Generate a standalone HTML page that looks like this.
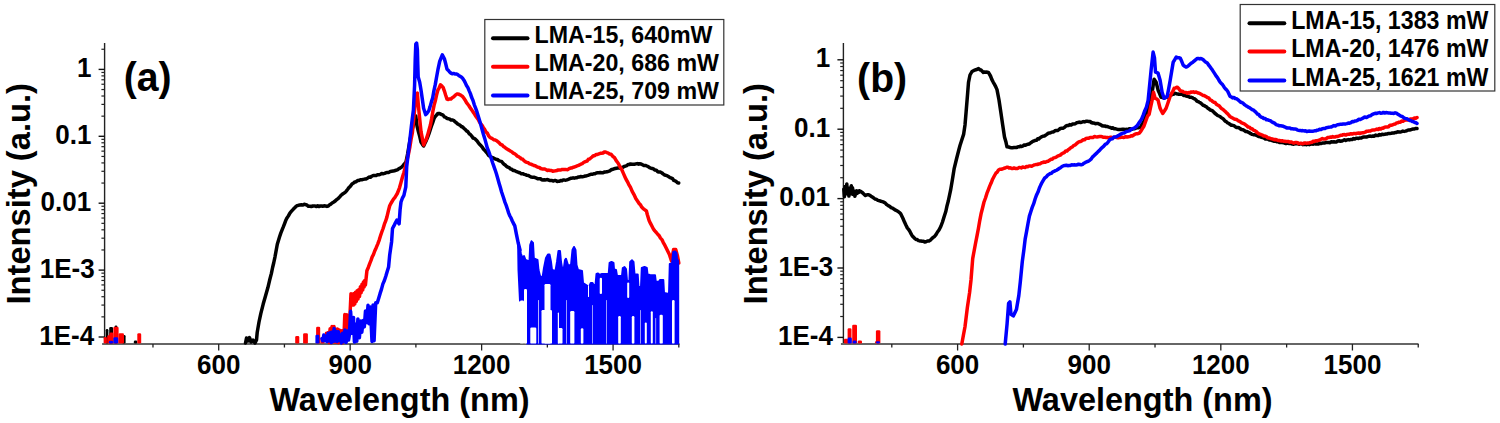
<!DOCTYPE html>
<html><head><meta charset="utf-8"><style>
html,body{margin:0;padding:0;background:#fff;width:1500px;height:423px;overflow:hidden}
svg{display:block}
text{font-family:"Liberation Sans", sans-serif;fill:#000}
</style></head><body>
<svg width="1500" height="423" viewBox="0 0 1500 423">
<rect width="1500" height="423" fill="#fff"/>
<line x1="104.6" y1="43" x2="104.6" y2="345" stroke="#222" stroke-width="1.4"/>
<line x1="102.1" y1="344" x2="679.5" y2="344" stroke="#666" stroke-width="2"/>
<line x1="98.6" y1="337.00" x2="104.6" y2="337.00" stroke="#111" stroke-width="1.4"/>
<line x1="101.39999999999999" y1="316.86" x2="104.6" y2="316.86" stroke="#222" stroke-width="1.2"/>
<line x1="101.39999999999999" y1="305.08" x2="104.6" y2="305.08" stroke="#222" stroke-width="1.2"/>
<line x1="101.39999999999999" y1="296.72" x2="104.6" y2="296.72" stroke="#222" stroke-width="1.2"/>
<line x1="101.39999999999999" y1="290.24" x2="104.6" y2="290.24" stroke="#222" stroke-width="1.2"/>
<line x1="101.39999999999999" y1="284.94" x2="104.6" y2="284.94" stroke="#222" stroke-width="1.2"/>
<line x1="101.39999999999999" y1="280.46" x2="104.6" y2="280.46" stroke="#222" stroke-width="1.2"/>
<line x1="101.39999999999999" y1="276.58" x2="104.6" y2="276.58" stroke="#222" stroke-width="1.2"/>
<line x1="101.39999999999999" y1="273.16" x2="104.6" y2="273.16" stroke="#222" stroke-width="1.2"/>
<line x1="98.6" y1="270.10" x2="104.6" y2="270.10" stroke="#111" stroke-width="1.4"/>
<line x1="101.39999999999999" y1="249.96" x2="104.6" y2="249.96" stroke="#222" stroke-width="1.2"/>
<line x1="101.39999999999999" y1="238.18" x2="104.6" y2="238.18" stroke="#222" stroke-width="1.2"/>
<line x1="101.39999999999999" y1="229.82" x2="104.6" y2="229.82" stroke="#222" stroke-width="1.2"/>
<line x1="101.39999999999999" y1="223.34" x2="104.6" y2="223.34" stroke="#222" stroke-width="1.2"/>
<line x1="101.39999999999999" y1="218.04" x2="104.6" y2="218.04" stroke="#222" stroke-width="1.2"/>
<line x1="101.39999999999999" y1="213.56" x2="104.6" y2="213.56" stroke="#222" stroke-width="1.2"/>
<line x1="101.39999999999999" y1="209.68" x2="104.6" y2="209.68" stroke="#222" stroke-width="1.2"/>
<line x1="101.39999999999999" y1="206.26" x2="104.6" y2="206.26" stroke="#222" stroke-width="1.2"/>
<line x1="98.6" y1="203.20" x2="104.6" y2="203.20" stroke="#111" stroke-width="1.4"/>
<line x1="101.39999999999999" y1="183.06" x2="104.6" y2="183.06" stroke="#222" stroke-width="1.2"/>
<line x1="101.39999999999999" y1="171.28" x2="104.6" y2="171.28" stroke="#222" stroke-width="1.2"/>
<line x1="101.39999999999999" y1="162.92" x2="104.6" y2="162.92" stroke="#222" stroke-width="1.2"/>
<line x1="101.39999999999999" y1="156.44" x2="104.6" y2="156.44" stroke="#222" stroke-width="1.2"/>
<line x1="101.39999999999999" y1="151.14" x2="104.6" y2="151.14" stroke="#222" stroke-width="1.2"/>
<line x1="101.39999999999999" y1="146.66" x2="104.6" y2="146.66" stroke="#222" stroke-width="1.2"/>
<line x1="101.39999999999999" y1="142.78" x2="104.6" y2="142.78" stroke="#222" stroke-width="1.2"/>
<line x1="101.39999999999999" y1="139.36" x2="104.6" y2="139.36" stroke="#222" stroke-width="1.2"/>
<line x1="98.6" y1="136.30" x2="104.6" y2="136.30" stroke="#111" stroke-width="1.4"/>
<line x1="101.39999999999999" y1="116.16" x2="104.6" y2="116.16" stroke="#222" stroke-width="1.2"/>
<line x1="101.39999999999999" y1="104.38" x2="104.6" y2="104.38" stroke="#222" stroke-width="1.2"/>
<line x1="101.39999999999999" y1="96.02" x2="104.6" y2="96.02" stroke="#222" stroke-width="1.2"/>
<line x1="101.39999999999999" y1="89.54" x2="104.6" y2="89.54" stroke="#222" stroke-width="1.2"/>
<line x1="101.39999999999999" y1="84.24" x2="104.6" y2="84.24" stroke="#222" stroke-width="1.2"/>
<line x1="101.39999999999999" y1="79.76" x2="104.6" y2="79.76" stroke="#222" stroke-width="1.2"/>
<line x1="101.39999999999999" y1="75.88" x2="104.6" y2="75.88" stroke="#222" stroke-width="1.2"/>
<line x1="101.39999999999999" y1="72.46" x2="104.6" y2="72.46" stroke="#222" stroke-width="1.2"/>
<line x1="98.6" y1="69.40" x2="104.6" y2="69.40" stroke="#111" stroke-width="1.4"/>
<line x1="101.39999999999999" y1="49.26" x2="104.6" y2="49.26" stroke="#222" stroke-width="1.2"/>
<line x1="152.97" y1="344" x2="152.97" y2="347.5" stroke="#222" stroke-width="1.3"/>
<line x1="218.70" y1="344" x2="218.70" y2="350.5" stroke="#222" stroke-width="1.3"/>
<line x1="284.43" y1="344" x2="284.43" y2="347.5" stroke="#222" stroke-width="1.3"/>
<line x1="350.16" y1="344" x2="350.16" y2="350.5" stroke="#222" stroke-width="1.3"/>
<line x1="415.89" y1="344" x2="415.89" y2="347.5" stroke="#222" stroke-width="1.3"/>
<line x1="481.62" y1="344" x2="481.62" y2="350.5" stroke="#222" stroke-width="1.3"/>
<line x1="547.35" y1="344" x2="547.35" y2="347.5" stroke="#222" stroke-width="1.3"/>
<line x1="613.08" y1="344" x2="613.08" y2="350.5" stroke="#222" stroke-width="1.3"/>
<line x1="678.81" y1="344" x2="678.81" y2="347.5" stroke="#222" stroke-width="1.3"/>
<text x="0" y="0" font-size="26" font-weight="bold" text-anchor="end" transform="translate(91.50,76.90) scale(1.0,1.04)">1</text>
<text x="0" y="0" font-size="26" font-weight="bold" text-anchor="end" transform="translate(91.50,143.80) scale(1.0,1.04)">0.1</text>
<text x="0" y="0" font-size="26" font-weight="bold" text-anchor="end" transform="translate(91.20,210.70) scale(1.0,1.04)">0.01</text>
<text x="0" y="0" font-size="26" font-weight="bold" text-anchor="end" transform="translate(94.60,277.60) scale(1.0,1.04)">1E-3</text>
<text x="0" y="0" font-size="26" font-weight="bold" text-anchor="end" transform="translate(94.20,344.50) scale(1.0,1.04)">1E-4</text>
<text x="0" y="0" font-size="26" font-weight="bold" text-anchor="middle" transform="translate(218.70,374.00) scale(1.0,1.04)">600</text>
<text x="0" y="0" font-size="26" font-weight="bold" text-anchor="middle" transform="translate(350.16,374.00) scale(1.0,1.04)">900</text>
<text x="0" y="0" font-size="26" font-weight="bold" text-anchor="middle" transform="translate(481.62,374.00) scale(1.0,1.04)">1200</text>
<text x="0" y="0" font-size="26" font-weight="bold" text-anchor="middle" transform="translate(613.08,374.00) scale(1.0,1.04)">1500</text>
<line x1="843.4" y1="43" x2="843.4" y2="345" stroke="#222" stroke-width="1.4"/>
<line x1="840.9" y1="344" x2="1418.5" y2="344" stroke="#666" stroke-width="2"/>
<line x1="837.4" y1="337.40" x2="843.4" y2="337.40" stroke="#111" stroke-width="1.4"/>
<line x1="840.1999999999999" y1="316.51" x2="843.4" y2="316.51" stroke="#222" stroke-width="1.2"/>
<line x1="840.1999999999999" y1="304.29" x2="843.4" y2="304.29" stroke="#222" stroke-width="1.2"/>
<line x1="840.1999999999999" y1="295.62" x2="843.4" y2="295.62" stroke="#222" stroke-width="1.2"/>
<line x1="840.1999999999999" y1="288.89" x2="843.4" y2="288.89" stroke="#222" stroke-width="1.2"/>
<line x1="840.1999999999999" y1="283.40" x2="843.4" y2="283.40" stroke="#222" stroke-width="1.2"/>
<line x1="840.1999999999999" y1="278.75" x2="843.4" y2="278.75" stroke="#222" stroke-width="1.2"/>
<line x1="840.1999999999999" y1="274.73" x2="843.4" y2="274.73" stroke="#222" stroke-width="1.2"/>
<line x1="840.1999999999999" y1="271.18" x2="843.4" y2="271.18" stroke="#222" stroke-width="1.2"/>
<line x1="837.4" y1="268.00" x2="843.4" y2="268.00" stroke="#111" stroke-width="1.4"/>
<line x1="840.1999999999999" y1="247.11" x2="843.4" y2="247.11" stroke="#222" stroke-width="1.2"/>
<line x1="840.1999999999999" y1="234.89" x2="843.4" y2="234.89" stroke="#222" stroke-width="1.2"/>
<line x1="840.1999999999999" y1="226.22" x2="843.4" y2="226.22" stroke="#222" stroke-width="1.2"/>
<line x1="840.1999999999999" y1="219.49" x2="843.4" y2="219.49" stroke="#222" stroke-width="1.2"/>
<line x1="840.1999999999999" y1="214.00" x2="843.4" y2="214.00" stroke="#222" stroke-width="1.2"/>
<line x1="840.1999999999999" y1="209.35" x2="843.4" y2="209.35" stroke="#222" stroke-width="1.2"/>
<line x1="840.1999999999999" y1="205.33" x2="843.4" y2="205.33" stroke="#222" stroke-width="1.2"/>
<line x1="840.1999999999999" y1="201.78" x2="843.4" y2="201.78" stroke="#222" stroke-width="1.2"/>
<line x1="837.4" y1="198.60" x2="843.4" y2="198.60" stroke="#111" stroke-width="1.4"/>
<line x1="840.1999999999999" y1="177.71" x2="843.4" y2="177.71" stroke="#222" stroke-width="1.2"/>
<line x1="840.1999999999999" y1="165.49" x2="843.4" y2="165.49" stroke="#222" stroke-width="1.2"/>
<line x1="840.1999999999999" y1="156.82" x2="843.4" y2="156.82" stroke="#222" stroke-width="1.2"/>
<line x1="840.1999999999999" y1="150.09" x2="843.4" y2="150.09" stroke="#222" stroke-width="1.2"/>
<line x1="840.1999999999999" y1="144.60" x2="843.4" y2="144.60" stroke="#222" stroke-width="1.2"/>
<line x1="840.1999999999999" y1="139.95" x2="843.4" y2="139.95" stroke="#222" stroke-width="1.2"/>
<line x1="840.1999999999999" y1="135.93" x2="843.4" y2="135.93" stroke="#222" stroke-width="1.2"/>
<line x1="840.1999999999999" y1="132.38" x2="843.4" y2="132.38" stroke="#222" stroke-width="1.2"/>
<line x1="837.4" y1="129.20" x2="843.4" y2="129.20" stroke="#111" stroke-width="1.4"/>
<line x1="840.1999999999999" y1="108.31" x2="843.4" y2="108.31" stroke="#222" stroke-width="1.2"/>
<line x1="840.1999999999999" y1="96.09" x2="843.4" y2="96.09" stroke="#222" stroke-width="1.2"/>
<line x1="840.1999999999999" y1="87.42" x2="843.4" y2="87.42" stroke="#222" stroke-width="1.2"/>
<line x1="840.1999999999999" y1="80.69" x2="843.4" y2="80.69" stroke="#222" stroke-width="1.2"/>
<line x1="840.1999999999999" y1="75.20" x2="843.4" y2="75.20" stroke="#222" stroke-width="1.2"/>
<line x1="840.1999999999999" y1="70.55" x2="843.4" y2="70.55" stroke="#222" stroke-width="1.2"/>
<line x1="840.1999999999999" y1="66.53" x2="843.4" y2="66.53" stroke="#222" stroke-width="1.2"/>
<line x1="840.1999999999999" y1="62.98" x2="843.4" y2="62.98" stroke="#222" stroke-width="1.2"/>
<line x1="837.4" y1="59.80" x2="843.4" y2="59.80" stroke="#111" stroke-width="1.4"/>
<line x1="891.80" y1="344" x2="891.80" y2="347.5" stroke="#222" stroke-width="1.3"/>
<line x1="957.60" y1="344" x2="957.60" y2="350.5" stroke="#222" stroke-width="1.3"/>
<line x1="1023.40" y1="344" x2="1023.40" y2="347.5" stroke="#222" stroke-width="1.3"/>
<line x1="1089.21" y1="344" x2="1089.21" y2="350.5" stroke="#222" stroke-width="1.3"/>
<line x1="1155.02" y1="344" x2="1155.02" y2="347.5" stroke="#222" stroke-width="1.3"/>
<line x1="1220.82" y1="344" x2="1220.82" y2="350.5" stroke="#222" stroke-width="1.3"/>
<line x1="1286.62" y1="344" x2="1286.62" y2="347.5" stroke="#222" stroke-width="1.3"/>
<line x1="1352.43" y1="344" x2="1352.43" y2="350.5" stroke="#222" stroke-width="1.3"/>
<line x1="1418.24" y1="344" x2="1418.24" y2="347.5" stroke="#222" stroke-width="1.3"/>
<text x="0" y="0" font-size="26" font-weight="bold" text-anchor="end" transform="translate(830.20,67.30) scale(1.0,1.04)">1</text>
<text x="0" y="0" font-size="26" font-weight="bold" text-anchor="end" transform="translate(830.20,136.70) scale(1.0,1.04)">0.1</text>
<text x="0" y="0" font-size="26" font-weight="bold" text-anchor="end" transform="translate(829.90,206.10) scale(1.0,1.04)">0.01</text>
<text x="0" y="0" font-size="26" font-weight="bold" text-anchor="end" transform="translate(833.30,275.50) scale(1.0,1.04)">1E-3</text>
<text x="0" y="0" font-size="26" font-weight="bold" text-anchor="end" transform="translate(832.90,344.90) scale(1.0,1.04)">1E-4</text>
<text x="0" y="0" font-size="26" font-weight="bold" text-anchor="middle" transform="translate(957.60,374.00) scale(1.0,1.04)">600</text>
<text x="0" y="0" font-size="26" font-weight="bold" text-anchor="middle" transform="translate(1089.21,374.00) scale(1.0,1.04)">900</text>
<text x="0" y="0" font-size="26" font-weight="bold" text-anchor="middle" transform="translate(1220.82,374.00) scale(1.0,1.04)">1200</text>
<text x="0" y="0" font-size="26" font-weight="bold" text-anchor="middle" transform="translate(1352.43,374.00) scale(1.0,1.04)">1500</text>
<rect x="105.7" y="329.0" width="2.7" height="14.5" rx="1.3" fill="#000"/><rect x="109.2" y="327.1" width="3.9" height="16.4" rx="1.3" fill="#000"/><rect x="114.6" y="325.5" width="2.8" height="18.0" rx="1.3" fill="#000"/><rect x="122.1" y="334.9" width="3.5" height="8.6" rx="1.3" fill="#000"/><rect x="133.8" y="340.4" width="3.5" height="3.1" rx="1.3" fill="#000"/>
<rect x="103.7" y="336.9" width="3.2" height="6.6" rx="1.3" fill="#f00"/><rect x="107.2" y="335.2" width="3.2" height="8.3" rx="1.3" fill="#f00"/><rect x="109.4" y="332.6" width="4.1" height="10.9" rx="1.3" fill="#f00"/><rect x="113.4" y="326.7" width="5.2" height="16.8" rx="1.3" fill="#f00"/><rect x="118.5" y="333.3" width="5.5" height="10.2" rx="1.3" fill="#f00"/><rect x="137.3" y="333.3" width="3.9" height="10.2" rx="1.3" fill="#f00"/><rect x="295.2" y="336.1" width="4.1" height="7.4" rx="1.3" fill="#f00"/><rect x="303.1" y="333.2" width="4.8" height="10.3" rx="1.3" fill="#f00"/><rect x="316.1" y="326.7" width="4.1" height="16.8" rx="1.3" fill="#f00"/><rect x="320.4" y="337.5" width="4.1" height="6.0" rx="1.3" fill="#f00"/>
<rect x="108.8" y="340.8" width="4.3" height="2.7" rx="1.3" fill="#00f"/><rect x="113.4" y="337.2" width="4.8" height="6.3" rx="1.3" fill="#00f"/><rect x="315.4" y="334.7" width="4.0" height="8.8" rx="1.3" fill="#00f"/>
<rect x="843.9" y="338.7" width="4.2" height="4.8" rx="1.3" fill="#f00"/><rect x="847.6" y="328.2" width="3.9" height="15.3" rx="1.3" fill="#f00"/><rect x="852.2" y="324.7" width="4.8" height="18.8" rx="1.3" fill="#f00"/><rect x="857.7" y="340.4" width="4.3" height="3.1" rx="1.3" fill="#f00"/><rect x="874.9" y="341.2" width="2.2" height="2.3" rx="1.3" fill="#f00"/><rect x="875.9" y="330.2" width="4.5" height="13.3" rx="1.3" fill="#f00"/>
<rect x="847.6" y="337.6" width="4.2" height="5.9" rx="1.3" fill="#00f"/><rect x="852.6" y="340.4" width="4.0" height="3.1" rx="1.3" fill="#00f"/><rect x="875.9" y="341.2" width="4.1" height="2.3" rx="1.3" fill="#00f"/>
<polyline points="245.5,343.0 246.5,338.0 248.0,341.0 249.5,337.5 251.0,342.0 253.0,340.0 255.0,343.0 256.5,340.0 257.2,332.5 259.0,322.0 260.8,313.6 263.2,304.1 265.5,296.0 267.9,287.6 269.6,280.3 271.4,273.4 272.6,267.5 273.8,262.5 275.0,256.8 277.3,244.3 279.5,237.0 280.8,233.1 282.0,230.1 283.2,227.2 284.4,224.1 285.6,220.8 286.8,218.3 288.4,215.9 289.9,213.1 291.5,211.2 293.2,209.3 295.0,207.5 296.2,206.3 297.4,205.6 298.6,205.3 300.0,204.9 301.4,204.7 302.9,205.1 304.3,204.3 305.7,204.6 307.0,205.2 308.4,206.3 309.9,206.3 311.3,206.5 312.8,206.0 314.0,206.1 315.2,206.0 316.5,206.6 317.7,205.7 318.9,206.5 320.2,206.0 321.4,205.9 322.6,206.3 324.0,205.8 325.5,206.0 326.9,206.4 328.3,206.0 329.6,204.7 330.8,204.1 332.1,203.0 333.8,202.0 335.5,200.8 336.7,199.6 338.0,198.6 339.2,197.5 340.6,195.8 342.0,194.5 343.5,193.4 344.9,192.6 346.3,191.1 347.7,189.3 349.1,187.4 350.6,185.9 352.0,184.0 353.4,183.1 354.8,182.0 356.2,181.7 357.6,180.5 359.0,180.4 360.4,179.7 361.9,179.7 363.3,179.4 364.7,179.1 366.1,178.9 367.5,178.2 369.0,177.1 370.4,177.3 371.8,176.2 373.2,175.5 374.6,175.6 376.1,175.6 377.5,174.7 378.9,174.8 380.3,174.4 381.7,173.5 383.2,173.7 384.6,173.4 386.0,172.7 387.4,172.4 388.9,172.4 390.3,171.5 391.7,171.3 393.1,171.1 394.5,170.7 395.9,170.3 397.3,169.9 398.7,168.8 400.1,168.1 401.6,167.1 403.0,165.6 404.4,163.9 405.9,162.3 407.7,153.5 410.0,140.0 411.2,134.2 412.5,128.0 414.5,121.2 415.8,116.0 417.1,126.4 418.4,131.6 419.7,136.4 421.0,142.0 422.3,144.2 423.6,146.0 424.9,143.2 426.2,140.6 427.5,137.5 428.8,134.2 430.1,130.1 431.4,126.3 432.7,122.7 434.0,118.6 435.3,116.4 436.6,115.1 437.9,113.4 439.2,113.5 440.5,113.9 441.8,114.7 443.1,115.2 444.4,116.9 445.7,117.3 447.0,118.6 448.3,118.7 449.6,119.1 450.9,119.9 452.2,119.9 453.5,120.3 454.8,121.6 456.1,122.5 457.4,123.8 458.7,124.6 460.0,125.1 461.3,126.5 462.6,127.0 463.9,128.3 465.2,129.3 466.5,130.9 467.8,131.6 469.1,133.7 470.4,134.5 471.7,136.1 473.0,138.0 474.3,138.4 475.6,139.4 476.9,140.7 478.2,142.6 479.5,144.3 480.8,145.6 482.1,146.9 483.4,149.0 484.7,150.4 486.0,151.8 487.4,153.5 488.7,155.4 490.0,156.4 491.3,157.2 492.5,157.6 493.8,158.2 495.1,158.9 496.4,159.4 497.6,159.4 498.9,160.7 500.2,161.1 501.5,161.4 502.8,163.0 504.0,164.2 505.2,165.0 506.5,166.4 507.8,167.1 509.1,167.6 510.5,169.0 511.8,169.2 513.1,170.5 514.5,170.6 515.9,171.3 517.2,171.8 518.6,172.5 520.0,172.8 521.4,173.8 522.8,173.7 524.2,174.3 525.5,174.7 526.9,175.3 528.3,175.4 529.7,176.3 531.1,177.1 532.4,177.2 533.8,177.2 535.2,177.7 536.5,178.2 537.9,178.8 539.2,178.8 540.5,178.8 541.8,179.7 543.1,180.0 544.3,179.7 545.6,179.9 546.9,179.6 548.2,179.8 549.5,180.4 550.8,180.4 552.0,180.4 553.2,181.1 554.5,180.5 555.8,180.5 557.0,181.5 558.2,181.2 559.5,181.3 560.7,180.6 562.0,180.7 563.2,179.9 564.5,180.1 565.7,180.2 566.9,179.8 568.2,179.3 569.4,178.8 570.6,178.3 571.9,178.2 573.1,177.8 574.3,178.2 575.6,177.8 576.8,177.8 578.1,177.1 579.3,177.1 580.5,176.5 581.8,176.8 583.0,176.7 584.3,176.3 585.5,176.0 586.8,175.7 588.0,175.3 589.3,174.8 590.7,174.3 592.1,174.3 593.6,173.8 595.0,173.7 596.3,173.0 597.6,172.8 599.0,172.8 600.3,172.6 601.6,172.8 603.0,172.8 604.3,172.1 605.6,171.9 607.0,171.8 608.4,171.3 609.9,170.8 611.3,169.7 612.7,169.3 614.0,168.8 615.2,168.5 616.5,168.2 617.8,168.0 619.1,168.1 620.3,168.2 621.6,167.5 622.9,167.3 624.1,166.5 625.4,166.1 626.7,165.7 628.0,164.5 629.2,164.6 630.5,163.9 631.8,164.3 633.1,164.2 634.5,164.2 635.8,163.9 637.1,163.6 638.5,164.2 639.8,163.7 641.1,163.9 642.5,164.7 643.9,165.5 645.4,165.4 646.8,166.0 648.2,166.6 649.6,167.7 650.9,168.2 652.3,168.4 653.6,169.0 655.0,170.1 656.4,170.3 657.8,171.7 659.2,172.1 660.6,172.1 662.0,173.0 663.4,174.1 664.7,175.0 666.1,175.4 667.4,175.9 668.8,176.8 670.0,177.6 671.3,178.0 672.5,178.6 673.8,180.4 675.0,180.8 676.2,181.5 677.5,182.7 678.7,183.0" fill="none" stroke="#000" stroke-width="3.5" stroke-linejoin="round" stroke-linecap="round"/>
<polyline points="326.5,333.3 327.5,341.3 328.3,332.6 329.2,342.5 330.1,328.8 331.0,342.7 332.0,326.5 332.9,341.8 334.0,326.6 335.0,342.0 335.9,329.6 336.6,342.1 337.4,329.0 338.4,342.7 339.3,330.1 340.3,342.3 341.2,330.8 342.2,342.8 343.1,330.5 343.9,338.9 344.8,314.6 345.8,335.5 346.7,314.7 347.6,335.2 348.6,319.7 349.5,325.5 351.0,293.7 351.9,301.2 352.5,294.2 353.4,305.1 354.1,293.5 354.8,304.0 355.5,292.2 356.3,301.3 357.1,290.8 358.0,299.0 358.6,289.7 359.5,296.6 360.4,286.7 361.1,292.7 362.0,284.2 362.7,290.1 363.4,282.1 364.1,287.1 364.7,280.5 365.4,285.1 366.9,270.7 368.4,267.2 369.8,263.4 371.0,260.4 372.2,256.9 373.4,254.7 374.6,251.2 376.2,247.7 377.7,244.1 379.3,239.8 380.6,235.6 381.8,232.0 383.1,228.5 384.4,224.2 385.6,221.2 386.9,217.1 388.3,211.2 389.7,205.8 391.0,203.2 392.2,201.3 393.5,199.2 394.8,197.7 396.0,195.7 397.3,193.5 399.5,187.8 401.0,182.4 402.4,177.2 403.9,172.4 405.5,166.5 407.0,159.9 408.6,153.5 409.9,146.8 411.1,139.2 412.4,132.7 413.8,117.9 415.2,104.0 416.3,94.0 417.3,93.0 418.4,105.6 419.7,118.8 421.0,131.6 422.3,138.2 423.6,145.0 424.9,141.8 426.2,139.4 427.6,135.1 429.0,130.0 430.4,125.1 431.6,118.9 432.8,111.7 434.0,105.6 435.3,100.8 436.6,94.8 437.9,90.0 439.2,87.8 440.5,84.8 441.8,86.1 443.1,87.4 444.4,91.1 445.7,95.3 447.0,99.1 448.3,99.5 449.6,98.9 450.9,99.1 452.2,97.7 453.5,97.0 454.8,95.7 456.1,94.5 457.4,93.9 458.7,94.2 460.0,94.8 461.3,95.6 462.6,96.5 463.9,98.3 465.2,100.2 466.5,102.6 467.8,104.3 469.1,106.0 470.4,108.2 471.7,109.8 473.0,111.9 474.3,113.6 475.6,116.0 476.9,117.7 478.2,119.4 479.5,122.1 480.8,123.9 482.1,125.4 483.4,127.7 484.7,129.6 486.0,132.1 487.4,133.2 488.7,135.9 490.0,137.5 491.3,138.1 492.6,138.8 494.0,139.8 495.3,140.0 496.6,140.7 498.0,141.8 499.3,143.1 500.7,144.5 502.1,144.9 503.4,146.5 504.8,147.3 506.2,148.5 507.6,149.4 509.0,150.1 510.3,151.0 511.7,151.7 513.1,153.1 514.5,153.7 515.9,154.6 517.2,156.2 518.6,156.7 520.0,157.6 521.4,158.9 522.8,159.3 524.2,160.9 525.5,161.8 526.9,162.4 528.3,162.8 529.7,163.9 531.1,164.2 532.4,164.8 533.8,165.5 535.2,165.8 536.5,166.6 537.9,167.2 539.3,167.4 540.7,168.5 542.0,168.9 543.4,168.9 544.8,169.0 546.2,169.7 547.5,170.5 548.8,170.1 550.2,170.5 551.5,170.5 552.8,171.3 554.1,170.9 555.5,170.8 556.8,170.5 558.2,170.0 559.5,170.0 560.9,170.0 562.2,169.4 563.6,169.6 565.0,169.4 566.3,169.6 567.7,169.7 569.1,168.7 570.5,168.1 571.9,167.9 573.2,167.2 574.6,167.0 576.0,166.4 577.2,165.8 578.5,165.4 579.8,164.7 581.0,164.1 582.2,163.7 583.5,162.5 584.8,161.9 586.0,161.4 587.2,161.0 588.4,159.3 589.6,159.0 590.8,158.0 592.0,157.0 593.3,155.7 594.7,155.7 596.0,154.5 597.4,154.5 598.9,153.8 600.3,153.3 601.6,153.2 603.0,153.0 604.3,152.0 605.6,152.0 607.0,152.6 608.3,153.1 609.6,154.0 611.0,154.2 612.8,156.3 614.5,157.7 616.2,160.7 618.0,163.0 619.2,165.2 620.4,167.6 621.6,169.3 623.4,173.4 625.1,177.2 626.3,179.8 627.5,181.7 628.7,184.3 630.5,187.4 632.2,191.4 634.0,194.6 635.8,198.5 637.5,201.0 639.3,203.8 640.5,204.9 641.7,207.1 642.9,208.3 644.6,209.7 646.4,211.0 647.3,214.5 649.1,220.4 650.5,223.4 652.0,226.3 653.4,229.0 654.8,230.9 656.3,232.5 657.7,234.3 659.1,235.6 660.5,238.1 661.9,239.6 663.3,242.6 664.8,245.2 666.2,248.0 667.8,251.3 669.4,254.5 671.5,260.9 673.6,249.5 675.7,249.5 677.5,256.0 678.8,263.0" fill="none" stroke="#f00" stroke-width="3.5" stroke-linejoin="round" stroke-linecap="round"/>
<polygon points="518.1,242.5 520.0,250.0 521.0,254.0 522.5,258.0 524.0,256.0 525.5,260.0 528.0,261.0 529.5,261.0 530.2,245.0 531.5,241.3 533.0,243.0 533.8,258.0 535.0,259.0 537.5,260.0 538.5,270.0 540.0,276.0 542.5,278.0 544.0,268.0 546.0,258.0 548.0,254.5 549.5,254.5 551.0,262.0 552.0,270.0 555.5,271.0 557.0,262.0 558.5,251.0 560.0,251.0 561.0,262.0 562.0,267.8 564.0,267.5 565.0,260.0 566.0,258.7 567.0,262.0 568.0,265.3 571.0,265.3 572.5,250.0 574.0,247.0 575.5,250.0 576.5,265.0 578.0,270.0 582.0,271.0 583.0,283.0 587.7,286.0 589.5,286.0 590.8,283.0 592.5,283.0 593.5,285.0 595.5,285.0 596.5,274.0 598.0,273.5 599.5,275.0 602.0,274.0 608.7,274.0 609.6,263.0 611.5,262.0 613.5,263.0 614.0,269.4 616.0,270.0 617.0,276.0 622.0,276.0 622.8,268.0 624.5,267.0 626.0,269.0 627.0,281.0 629.4,281.0 630.2,262.0 632.0,260.3 633.5,262.0 634.5,274.4 637.7,274.4 638.5,287.0 641.0,287.0 641.8,268.0 644.5,267.0 646.8,268.0 647.5,274.4 650.0,275.0 655.0,275.2 655.8,281.8 659.0,281.8 660.0,280.0 663.3,280.0 664.0,293.0 669.0,294.0 669.8,264.0 672.0,263.5 673.2,252.0 675.0,251.5 676.5,253.0 677.0,259.0 678.2,261.0 678.2,343.5 527.0,343.5 527.0,289.0 524.0,288.5 523.5,300.6 520.0,300.6 518.5,270.0" fill="#00f" stroke="#00f" stroke-width="2" stroke-linejoin="round"/><rect x="530.3" y="327.5" width="6.0" height="16.1" rx="1.2" fill="#fff"/><rect x="541.5" y="310.0" width="10.5" height="33.6" rx="1.2" fill="#fff"/><rect x="544.5" y="284.0" width="6.0" height="59.6" rx="1.2" fill="#fff"/><rect x="557.8" y="312.6" width="1.2" height="31.0" rx="0.6" fill="#fff"/><rect x="558.0" y="328.0" width="4.5" height="15.6" rx="1.2" fill="#fff"/><rect x="570.2" y="311.0" width="4.2" height="32.6" rx="1.2" fill="#fff"/><rect x="580.8" y="328.2" width="2.6" height="15.4" rx="1.2" fill="#fff"/><rect x="588.0" y="285.0" width="1.0" height="12.0" rx="0.5" fill="#fff"/><rect x="618.2" y="316.0" width="2.6" height="27.6" rx="1.2" fill="#fff"/><rect x="631.8" y="316.0" width="2.6" height="27.6" rx="1.2" fill="#fff"/><rect x="644.8" y="322.5" width="2.0" height="21.1" rx="1.0" fill="#fff"/><rect x="650.8" y="311.2" width="2.0" height="32.4" rx="1.0" fill="#fff"/><rect x="659.6" y="314.8" width="3.2" height="28.8" rx="1.2" fill="#fff"/><rect x="672.0" y="300.0" width="2.6" height="43.6" rx="1.2" fill="#fff"/><rect x="599.7" y="277.7" width="2.3" height="16.3" rx="1.1" fill="#fff"/><rect x="627.2" y="282.6" width="2.0" height="15.4" rx="1.0" fill="#fff"/><rect x="524.0" y="289.0" width="3.0" height="54.6" rx="1.2" fill="#fff"/><rect x="520.0" y="300.6" width="4.0" height="43.0" rx="1.2" fill="#fff"/><rect x="538.2" y="300.0" width="0.7" height="43.6" rx="0.3" fill="#fff"/><rect x="566.2" y="300.0" width="0.6" height="43.6" rx="0.3" fill="#fff"/><rect x="592.0" y="305.0" width="0.6" height="38.6" rx="0.3" fill="#fff"/><rect x="606.0" y="300.0" width="0.6" height="43.6" rx="0.3" fill="#fff"/><rect x="640.0" y="310.0" width="0.6" height="33.6" rx="0.3" fill="#fff"/><rect x="655.5" y="318.0" width="0.6" height="25.6" rx="0.3" fill="#fff"/>
<polyline points="322.0,338.6 322.8,340.8 323.8,335.0 324.8,340.8 325.7,336.2 327.1,341.5 328.1,333.3 329.3,340.7 330.5,332.4 331.3,342.6 332.3,332.1 333.3,341.3 334.1,328.6 335.0,341.0 336.2,331.4 337.2,341.5 338.3,331.8 339.2,340.3 340.1,334.9 341.4,342.9 342.5,333.3 343.9,341.7 344.9,329.9 346.2,342.4 347.4,331.0 348.5,340.1 349.4,334.9 350.6,311.3 352.0,333.3 353.5,317.5 354.4,342.0 355.7,324.3 356.8,341.2 357.9,318.9 359.4,337.7 360.8,320.9 361.8,332.3 363.2,320.5 364.3,326.9 365.5,311.0 366.8,322.6 368.0,305.3 369.0,323.7 370.4,307.0 372.0,341.4 373.1,304.9 374.1,340.8 375.7,302.7 377.3,302.8 378.7,298.2 380.1,293.4 381.5,289.1 382.9,283.9 384.4,280.5 385.8,276.3 387.2,271.6 388.6,266.9 389.7,255.0 391.6,241.7 392.5,228.5 393.9,225.9 395.4,222.8 396.9,220.0 399.1,223.8 400.1,209.6 401.0,202.0 402.4,198.2 403.9,195.4 405.8,186.9 406.7,166.7 408.1,154.6 409.6,142.1 411.5,125.1 413.4,110.0 414.6,85.0 415.2,60.0 415.8,44.0 416.6,43.0 417.4,50.0 417.8,65.0 418.2,77.0 419.7,82.2 421.0,90.0 422.3,99.1 423.6,108.2 425.7,114.7 427.2,113.0 428.8,110.8 430.1,106.6 431.4,101.9 432.7,97.8 434.0,90.4 435.3,84.4 436.6,77.0 438.1,68.8 439.7,61.4 441.0,58.1 442.3,54.9 444.4,58.8 445.7,63.8 447.0,69.2 448.3,70.3 449.6,72.0 450.9,73.1 452.2,73.8 453.5,73.4 454.8,74.0 456.1,73.9 457.4,74.4 458.7,75.4 460.0,76.2 461.3,77.0 462.6,78.3 463.9,80.2 465.2,82.6 466.5,85.5 467.8,87.4 469.1,90.6 470.4,93.6 471.7,97.6 473.0,100.4 474.3,104.8 475.6,108.1 476.9,111.7 478.2,116.0 479.5,120.2 480.8,124.7 482.1,129.5 483.4,134.2 484.7,138.4 486.0,143.1 487.3,148.0 488.6,151.2 489.9,154.9 491.2,158.2 492.5,162.5 493.8,166.2 495.1,169.8 496.4,173.8 497.7,178.3 499.0,182.9 500.3,187.3 501.6,192.0 503.3,197.0 505.0,202.4 506.2,205.4 507.4,209.0 508.7,213.1 509.9,216.0 511.1,218.1 512.3,221.0 513.6,223.6 514.8,225.9 516.5,234.6 518.1,242.5 520.0,250.0" fill="none" stroke="#00f" stroke-width="3.5" stroke-linejoin="round" stroke-linecap="round"/>
<polyline points="843.8,189.2 844.4,196.7 845.1,186.5 845.9,193.7 846.8,183.9 847.3,194.0 848.2,187.9 848.9,196.0 849.6,188.0 850.4,193.2 851.3,185.7 851.8,193.9 852.5,187.8 853.4,194.5 854.2,191.3 854.9,196.2 855.4,193.2 856.0,194.1 856.7,190.9 857.3,193.3 858.0,191.2 858.6,192.5 859.3,190.7 859.3,190.7 861.0,191.6 862.8,193.0 864.1,194.4 865.5,195.5 867.1,194.7 868.7,194.8 870.3,195.6 871.9,196.8 873.5,197.8 875.0,199.0 876.5,199.4 877.9,200.4 879.4,200.7 880.9,201.3 882.3,201.6 883.8,202.2 885.3,203.1 886.8,204.7 888.2,205.7 889.7,206.4 891.2,207.8 892.7,208.1 894.2,209.3 895.6,210.2 897.1,210.8 898.3,211.7 899.5,212.6 900.7,213.8 903.0,218.5 904.5,222.1 906.0,225.3 907.3,227.9 908.5,229.3 909.8,231.3 911.0,233.7 912.3,236.0 913.5,237.1 914.8,238.5 916.0,239.5 917.2,239.6 918.5,240.6 919.7,240.9 920.9,241.1 922.2,241.3 923.5,241.2 924.7,242.1 926.0,241.8 927.5,241.0 929.0,240.9 930.5,240.0 931.8,238.6 933.2,237.4 934.5,236.5 936.0,234.6 937.5,232.0 939.0,230.0 940.8,226.5 942.5,222.0 944.1,216.7 945.8,211.5 947.0,205.9 948.3,201.0 950.6,190.2 952.5,179.0 954.1,168.9 956.5,159.0 958.8,150.0 960.0,145.5 961.3,141.5 963.6,134.4 965.0,125.0 966.1,112.0 967.5,95.0 968.5,82.3 970.0,75.0 972.0,71.5 973.5,70.7 975.0,70.0 976.8,69.5 978.5,68.6 979.8,69.7 981.0,70.0 983.4,72.4 984.6,72.0 985.9,72.3 987.1,72.1 988.4,72.4 990.5,76.0 991.9,79.6 993.3,82.3 994.5,84.4 995.8,86.8 997.0,89.7 999.0,100.0 1000.8,112.0 1002.7,125.0 1004.5,136.9 1005.8,141.4 1007.0,146.8 1008.6,147.0 1010.2,147.5 1011.5,147.8 1012.8,147.7 1014.1,147.4 1015.5,147.6 1016.8,147.4 1018.1,146.7 1019.4,146.8 1020.6,146.1 1021.8,146.5 1023.0,146.0 1024.2,144.9 1025.5,145.2 1026.7,144.6 1027.9,144.2 1029.1,144.0 1030.3,143.1 1031.5,142.3 1032.7,141.4 1033.9,141.0 1035.2,140.4 1036.4,140.3 1037.6,138.8 1038.8,139.0 1040.0,137.8 1041.4,136.8 1042.7,136.3 1044.1,136.1 1045.4,135.4 1046.8,134.4 1048.1,133.3 1049.5,133.1 1050.8,132.6 1052.2,132.0 1053.5,132.0 1054.9,130.8 1056.2,130.5 1057.6,130.5 1058.9,129.6 1060.3,128.5 1061.6,128.3 1063.0,128.2 1064.3,127.5 1065.7,126.2 1067.0,125.6 1068.4,125.5 1069.7,124.6 1071.1,125.1 1072.4,124.0 1073.8,124.0 1075.1,123.8 1076.5,122.8 1077.8,122.5 1079.2,122.1 1080.5,122.6 1081.9,122.1 1083.2,121.6 1084.6,121.9 1085.9,121.3 1087.3,121.3 1088.6,121.4 1090.0,121.5 1091.3,122.5 1092.7,123.0 1094.0,123.1 1095.4,123.7 1096.7,123.6 1098.1,123.5 1099.4,124.2 1100.8,124.8 1102.1,125.7 1103.5,126.1 1104.8,126.0 1106.2,126.5 1107.6,126.6 1108.9,127.1 1110.3,127.5 1111.6,128.2 1113.0,127.8 1114.3,128.8 1115.7,128.8 1117.0,129.2 1118.4,129.4 1119.7,129.4 1121.1,129.4 1122.4,129.2 1123.8,129.3 1125.1,129.6 1126.5,129.3 1127.8,129.7 1129.2,128.8 1130.5,128.8 1131.9,129.3 1133.2,128.7 1134.6,128.8 1136.1,128.0 1137.5,127.5 1139.0,127.7 1140.5,127.2 1142.2,124.1 1144.0,121.3 1145.8,115.9 1147.6,109.5 1149.3,104.1 1151.1,98.0 1152.6,89.1 1154.1,79.2 1156.1,82.2 1158.1,90.2 1159.6,93.5 1161.1,97.3 1162.6,97.4 1164.1,98.3 1165.4,97.4 1166.7,97.3 1167.9,97.0 1169.2,96.3 1170.4,95.6 1171.6,94.8 1172.8,94.4 1174.0,94.0 1175.2,93.3 1176.4,93.7 1177.6,93.9 1178.8,94.2 1180.0,94.3 1181.2,94.3 1182.4,94.3 1183.6,95.4 1184.9,95.3 1186.1,96.0 1187.3,96.3 1188.5,96.6 1189.7,97.3 1190.9,97.2 1192.1,97.6 1193.3,98.3 1194.5,98.8 1195.7,99.6 1196.9,101.1 1198.1,101.6 1199.3,102.3 1200.5,102.9 1201.7,103.8 1202.9,105.2 1204.1,105.5 1205.3,106.3 1206.5,106.8 1207.7,108.2 1209.0,108.9 1210.2,110.0 1211.4,110.3 1212.6,110.9 1213.9,112.2 1215.1,113.5 1216.3,114.4 1217.6,115.5 1218.8,116.0 1220.0,116.5 1221.3,117.6 1222.5,118.4 1223.8,119.4 1225.0,121.1 1226.3,121.6 1227.5,122.9 1228.8,123.3 1230.0,124.3 1231.3,125.2 1232.6,125.3 1233.9,125.7 1235.2,126.7 1236.5,127.4 1237.8,127.5 1239.1,127.8 1240.4,128.9 1241.7,129.6 1243.0,129.8 1244.3,130.6 1245.6,131.4 1246.9,131.6 1248.2,132.2 1249.5,132.8 1250.8,133.7 1252.1,134.3 1253.4,134.7 1254.7,134.8 1256.0,135.1 1257.3,135.8 1258.6,136.6 1259.9,136.6 1261.2,137.3 1262.5,137.5 1263.8,137.9 1265.1,138.9 1266.4,139.1 1267.7,139.0 1269.0,139.9 1270.3,139.8 1271.6,140.4 1272.9,140.9 1274.2,141.3 1275.5,141.1 1276.8,141.8 1278.1,141.7 1279.4,142.4 1280.7,142.4 1282.0,142.4 1283.3,142.7 1284.6,143.1 1285.9,143.6 1287.2,143.1 1288.5,143.4 1289.8,143.3 1291.1,143.5 1292.4,144.0 1293.7,144.2 1295.0,143.8 1296.3,143.7 1297.6,143.6 1298.9,144.3 1300.2,143.8 1301.5,143.7 1302.8,144.7 1304.1,144.2 1305.4,144.4 1306.7,144.7 1308.0,144.2 1309.3,144.7 1310.6,144.2 1311.9,143.9 1313.2,144.2 1314.5,143.6 1315.8,144.0 1317.1,143.9 1318.4,144.1 1319.7,143.1 1321.0,143.5 1322.3,143.1 1323.6,143.1 1324.9,142.9 1326.2,142.4 1327.5,142.4 1328.8,142.5 1330.1,142.7 1331.4,141.7 1332.7,142.0 1334.0,141.8 1335.3,141.9 1336.6,141.9 1337.9,140.9 1339.2,140.7 1340.5,141.3 1341.8,141.1 1343.1,140.5 1344.4,139.8 1345.7,140.5 1347.0,139.9 1348.3,139.6 1349.6,139.9 1350.9,139.4 1352.2,139.4 1353.5,138.6 1354.8,139.0 1356.1,138.2 1357.4,138.2 1358.7,138.4 1360.0,137.9 1361.3,138.0 1362.6,137.2 1363.9,137.0 1365.2,137.0 1366.5,137.0 1367.8,136.6 1369.1,136.2 1370.4,136.1 1371.7,136.4 1373.0,136.0 1374.3,136.2 1375.6,135.1 1376.9,135.5 1378.2,135.5 1379.5,134.5 1380.8,135.1 1382.1,134.2 1383.4,134.5 1384.7,134.3 1386.0,134.0 1387.3,133.9 1388.6,133.4 1389.9,133.4 1391.2,133.3 1392.5,133.0 1393.8,133.0 1395.1,132.6 1396.4,132.4 1397.7,131.8 1399.0,132.1 1400.3,132.0 1401.6,131.6 1402.9,131.1 1404.2,131.4 1405.6,131.1 1406.9,130.6 1408.2,130.0 1409.5,130.1 1410.8,129.8 1412.0,129.2 1413.2,129.0 1414.5,129.0 1415.8,128.4 1417.0,128.6" fill="none" stroke="#000" stroke-width="3.5" stroke-linejoin="round" stroke-linecap="round"/>
<polyline points="961.8,344.0 963.4,335.3 965.0,326.8 967.3,308.0 969.6,292.5 971.0,280.0 972.7,258.6 974.1,251.0 975.6,243.0 977.0,235.9 978.4,228.5 979.8,220.3 981.2,213.2 982.6,207.8 984.0,202.0 985.5,198.0 986.9,193.4 988.3,189.9 989.8,185.9 991.2,182.8 992.6,179.2 994.3,176.0 996.0,173.0 997.2,172.2 998.4,170.2 999.6,169.3 1001.0,169.3 1002.4,169.0 1003.9,168.3 1005.3,168.0 1006.7,167.3 1007.9,167.2 1009.1,168.1 1010.3,167.8 1011.6,168.4 1012.8,168.5 1014.0,167.9 1015.2,168.4 1016.4,168.5 1017.7,168.5 1018.9,167.5 1020.1,167.6 1021.3,167.9 1022.6,167.1 1023.8,167.3 1025.1,167.4 1026.4,166.6 1027.7,166.8 1029.1,165.9 1030.4,166.0 1031.7,166.2 1033.0,165.5 1034.4,164.9 1035.8,164.6 1037.2,164.5 1038.6,164.0 1040.0,163.8 1041.4,162.8 1042.7,162.5 1044.1,162.0 1045.4,162.2 1046.8,161.5 1048.1,161.2 1049.5,160.3 1050.8,159.3 1052.2,159.2 1053.5,157.9 1054.9,157.6 1056.2,157.1 1057.6,156.1 1058.9,155.6 1060.3,155.1 1061.6,153.9 1063.0,153.1 1064.3,152.6 1065.7,150.9 1067.0,151.0 1068.4,149.6 1069.7,148.7 1071.1,147.5 1072.4,146.9 1073.8,145.4 1075.1,145.1 1076.5,143.7 1077.8,142.6 1079.2,141.8 1080.5,141.6 1081.9,140.7 1083.2,139.8 1084.6,139.8 1085.9,138.5 1087.3,138.3 1088.7,138.3 1090.1,137.4 1091.6,137.4 1093.0,137.4 1094.4,136.6 1095.7,136.8 1097.0,136.9 1098.3,136.7 1099.6,136.5 1101.0,136.6 1102.3,136.8 1103.6,137.3 1104.9,137.2 1106.2,137.4 1107.5,137.5 1108.8,137.9 1110.1,137.2 1111.4,137.3 1112.8,137.8 1114.1,137.2 1115.4,137.2 1116.7,137.6 1118.0,137.8 1119.3,137.3 1120.6,137.4 1121.9,137.1 1123.2,137.4 1124.6,137.2 1125.9,136.7 1127.2,137.0 1128.5,136.7 1129.8,136.6 1131.2,135.7 1132.5,136.0 1133.9,134.8 1135.2,134.2 1136.6,133.7 1137.9,133.7 1139.3,133.1 1140.9,131.1 1142.4,128.6 1144.0,126.0 1145.8,120.9 1147.6,116.0 1149.1,114.4 1150.6,107.1 1152.1,100.3 1153.5,92.3 1155.1,98.3 1156.6,98.8 1158.1,100.3 1160.1,108.3 1161.4,111.0 1162.7,113.4 1164.4,110.9 1166.1,108.3 1167.5,104.2 1168.8,100.4 1170.2,96.3 1171.5,93.5 1172.9,91.3 1174.2,88.2 1175.7,87.9 1177.2,87.2 1178.5,88.3 1179.9,90.3 1181.2,91.2 1182.4,91.2 1183.6,92.1 1184.9,92.4 1186.1,92.6 1187.3,93.3 1188.5,92.6 1189.7,93.0 1190.9,91.9 1192.1,92.2 1193.3,91.8 1194.5,92.5 1195.7,92.0 1196.9,92.4 1198.1,93.1 1199.3,93.3 1200.5,93.9 1201.7,94.6 1202.9,95.4 1204.1,95.4 1205.3,96.3 1206.5,96.9 1207.7,97.7 1209.0,98.2 1210.2,99.9 1211.4,100.3 1212.6,101.5 1213.9,102.3 1215.1,102.5 1216.3,104.2 1217.6,105.0 1218.8,105.6 1220.0,106.8 1221.3,108.3 1222.5,109.2 1223.8,110.2 1225.0,111.3 1226.3,112.6 1227.5,113.6 1228.8,115.1 1230.0,116.5 1231.3,117.4 1232.6,118.0 1233.9,118.8 1235.2,119.3 1236.5,119.5 1237.8,120.4 1239.1,121.2 1240.4,121.8 1241.7,122.9 1243.0,123.4 1244.3,123.9 1245.6,124.9 1246.9,125.9 1248.2,127.1 1249.5,127.2 1250.8,128.7 1252.1,128.7 1253.4,130.1 1254.7,130.6 1256.0,131.4 1257.3,132.6 1258.6,133.6 1259.9,134.2 1261.2,134.7 1262.5,135.1 1263.8,136.1 1265.1,136.1 1266.4,136.6 1267.7,137.8 1269.0,137.9 1270.3,138.4 1271.6,138.8 1272.9,139.1 1274.2,139.7 1275.5,139.5 1276.8,139.9 1278.1,140.5 1279.4,140.5 1280.7,140.9 1282.0,140.7 1283.3,141.2 1284.6,141.2 1285.9,141.5 1287.2,141.4 1288.5,141.6 1289.8,142.2 1291.1,141.9 1292.4,142.5 1293.7,143.1 1295.0,142.5 1296.3,142.5 1297.6,142.8 1298.9,143.7 1300.2,143.3 1301.5,143.3 1302.8,143.8 1304.1,143.1 1305.4,142.9 1306.7,143.3 1308.0,143.1 1309.3,142.9 1310.6,142.5 1311.9,142.3 1313.2,141.2 1314.5,141.4 1315.8,140.7 1317.1,140.8 1318.4,140.3 1319.7,140.0 1321.0,139.2 1322.3,138.5 1323.6,139.1 1324.9,138.9 1326.2,138.7 1327.5,137.6 1328.8,137.5 1330.1,137.1 1331.4,137.3 1332.7,136.6 1334.0,137.1 1335.3,136.9 1336.6,136.4 1337.9,136.4 1339.2,135.9 1340.5,135.3 1341.8,135.3 1343.1,134.7 1344.4,134.6 1345.7,135.1 1347.0,134.4 1348.3,134.3 1349.6,134.2 1350.9,133.7 1352.2,134.0 1353.5,133.6 1354.8,133.5 1356.1,133.7 1357.4,133.2 1358.7,133.0 1360.0,133.5 1361.3,132.9 1362.6,132.7 1363.9,132.7 1365.2,132.2 1366.5,131.3 1367.8,131.3 1369.1,131.0 1370.4,131.0 1371.7,130.3 1373.0,130.1 1374.3,130.1 1375.6,129.7 1376.9,129.1 1378.2,129.5 1379.5,128.5 1380.8,129.0 1382.1,128.1 1383.4,128.2 1384.7,127.2 1386.0,126.9 1387.3,127.0 1388.6,126.7 1389.9,125.3 1391.2,125.3 1392.5,124.8 1393.8,124.3 1395.1,124.1 1396.4,123.0 1397.7,122.8 1399.0,122.2 1400.4,122.2 1401.7,121.1 1403.0,121.3 1404.3,120.4 1405.6,120.0 1406.9,119.7 1408.2,119.9 1409.4,119.5 1410.7,118.9 1412.0,119.1 1413.2,118.8 1414.5,117.9 1415.8,118.2 1417.0,117.5" fill="none" stroke="#f00" stroke-width="3.5" stroke-linejoin="round" stroke-linecap="round"/>
<polyline points="1005.2,344.0 1007.1,323.7 1008.6,303.4 1009.9,301.8 1011.0,314.3 1013.3,315.9 1014.8,312.9 1016.4,309.6 1018.8,295.6 1020.3,282.0 1022.3,261.5 1023.8,250.4 1025.2,238.8 1026.6,231.4 1028.0,223.5 1029.4,216.1 1030.8,211.7 1032.2,207.4 1033.7,203.7 1035.1,199.0 1036.5,195.1 1037.9,192.3 1039.4,188.0 1040.8,184.9 1042.1,182.3 1043.4,180.1 1044.7,178.0 1046.3,176.9 1047.9,174.9 1049.1,174.2 1050.3,173.4 1051.6,173.2 1052.8,171.8 1054.0,171.4 1055.2,170.7 1056.5,170.3 1057.7,169.6 1058.9,168.6 1060.5,167.8 1062.0,166.5 1063.6,165.7 1065.0,165.4 1066.3,165.2 1067.7,165.7 1069.0,165.5 1070.4,165.4 1071.7,164.8 1073.1,165.0 1074.5,164.8 1075.8,165.1 1077.2,164.8 1078.5,164.2 1079.9,164.5 1081.2,164.8 1082.6,164.3 1084.0,163.2 1085.4,162.4 1086.8,161.7 1088.2,161.3 1089.6,160.3 1091.0,159.2 1092.4,157.1 1093.9,155.7 1095.3,154.4 1096.7,153.2 1098.1,151.6 1099.5,150.4 1101.0,148.6 1102.4,147.3 1103.8,146.1 1105.2,144.4 1106.6,143.7 1108.1,142.1 1109.5,140.0 1110.9,139.0 1112.3,138.8 1113.6,137.3 1115.0,136.9 1116.3,136.8 1117.7,135.9 1119.0,135.2 1120.4,134.3 1121.7,133.7 1123.1,133.0 1124.4,132.9 1125.8,131.8 1127.1,131.4 1128.5,131.1 1129.8,130.7 1131.2,129.3 1132.6,128.7 1134.1,128.2 1135.5,127.1 1136.9,126.0 1138.5,123.6 1140.1,121.4 1141.7,118.9 1143.3,114.9 1144.8,110.7 1146.4,107.1 1148.1,100.3 1149.6,85.3 1151.1,70.1 1153.1,52.1 1154.5,58.0 1155.5,72.2 1156.8,72.6 1158.1,73.2 1160.1,80.2 1162.1,92.3 1164.1,98.3 1165.7,97.5 1167.2,96.3 1168.7,88.7 1170.2,80.2 1171.7,71.1 1173.2,62.1 1174.7,59.7 1176.2,57.1 1177.5,57.7 1178.9,57.7 1180.2,58.1 1181.7,61.3 1183.2,65.1 1184.7,66.3 1186.2,67.1 1187.5,66.5 1188.8,65.4 1190.0,64.3 1191.3,63.1 1192.5,62.5 1193.7,61.4 1194.9,60.5 1196.1,59.4 1197.3,58.5 1198.5,58.5 1199.8,58.9 1201.0,58.5 1202.3,59.1 1203.5,60.0 1204.8,61.4 1206.0,62.3 1207.3,63.1 1208.6,65.0 1209.8,66.4 1211.1,68.3 1212.4,70.1 1213.7,72.1 1215.0,74.2 1216.3,76.2 1217.6,77.8 1218.8,80.0 1220.1,82.1 1221.4,83.5 1222.7,84.8 1224.0,86.9 1225.2,88.6 1226.5,89.8 1227.8,91.5 1230.0,96.3 1231.3,96.8 1232.6,97.9 1233.9,97.5 1235.2,98.5 1236.5,98.7 1237.8,99.6 1239.1,100.8 1240.4,102.0 1241.7,102.5 1243.0,103.1 1244.3,104.5 1245.6,105.4 1246.9,106.2 1248.2,107.2 1249.5,107.7 1250.8,108.6 1252.1,109.6 1253.4,110.0 1254.7,111.2 1256.0,112.3 1257.3,114.0 1258.6,114.4 1259.9,116.1 1261.2,117.1 1262.5,117.5 1263.8,118.5 1265.1,118.4 1266.4,119.8 1267.7,119.7 1269.0,120.4 1270.3,120.7 1271.6,121.7 1272.9,122.5 1274.2,122.9 1275.5,124.1 1276.8,124.9 1278.1,125.2 1279.4,125.8 1280.7,125.8 1282.0,126.0 1283.3,126.3 1284.6,126.9 1285.9,127.5 1287.2,128.0 1288.5,127.9 1289.8,127.9 1291.1,128.8 1292.4,128.8 1293.7,129.0 1295.0,129.0 1296.3,129.2 1297.6,130.1 1298.9,130.4 1300.2,130.4 1301.5,130.7 1302.8,130.6 1304.1,130.9 1305.4,130.7 1306.7,131.5 1308.0,131.2 1309.3,131.0 1310.6,131.2 1311.9,131.3 1313.2,131.2 1314.5,130.8 1315.8,130.8 1317.1,130.2 1318.4,130.1 1319.7,129.3 1321.0,129.6 1322.3,128.7 1323.6,128.5 1324.9,128.6 1326.2,127.7 1327.5,127.6 1328.8,127.2 1330.1,127.1 1331.4,126.9 1332.7,126.2 1334.0,125.6 1335.3,126.0 1336.6,125.1 1337.9,124.7 1339.2,124.6 1340.5,124.2 1341.8,124.2 1343.1,124.0 1344.4,124.1 1345.7,123.9 1347.0,123.6 1348.3,123.0 1349.6,123.2 1350.9,122.7 1352.2,121.4 1353.5,121.8 1354.8,121.0 1356.1,121.0 1357.4,120.4 1358.7,119.3 1360.0,119.6 1361.3,119.0 1362.6,118.4 1363.9,117.5 1365.2,117.0 1366.5,117.6 1367.8,116.8 1369.1,116.0 1370.4,115.8 1371.7,114.8 1373.0,114.1 1374.3,113.6 1375.6,113.2 1376.9,113.4 1378.2,112.9 1379.5,112.6 1380.8,113.3 1382.1,113.1 1383.4,112.4 1384.7,113.1 1386.0,112.6 1387.3,112.8 1388.6,113.0 1389.9,113.0 1391.2,113.3 1392.5,113.3 1393.8,113.4 1395.1,112.8 1396.4,113.2 1397.7,114.2 1399.0,114.8 1400.4,115.8 1401.7,116.3 1403.0,117.1 1404.3,118.1 1405.6,118.5 1406.9,118.8 1408.2,119.5 1409.5,120.4 1410.8,120.6 1412.0,121.4 1413.2,121.5 1414.5,122.4 1415.8,122.6 1417.0,123.5" fill="none" stroke="#00f" stroke-width="3.5" stroke-linejoin="round" stroke-linecap="round"/>
<rect x="484.8" y="19.5" width="238.99999999999994" height="85.5" fill="#fff" stroke="#333" stroke-width="1.2"/>
<line x1="493" y1="38.3" x2="527.5" y2="38.3" stroke="#000" stroke-width="4" stroke-linecap="round"/>
<text x="0" y="0" font-size="23.2" font-weight="bold" text-anchor="start" transform="translate(534.60,42.80) scale(1.0,1.03)">LMA-15, 640mW</text>
<line x1="493" y1="66.8" x2="527.5" y2="66.8" stroke="#f00" stroke-width="4" stroke-linecap="round"/>
<text x="0" y="0" font-size="23.2" font-weight="bold" text-anchor="start" transform="translate(534.60,71.40) scale(1.0,1.03)">LMA-20, 686 mW</text>
<line x1="493" y1="95.5" x2="527.5" y2="95.5" stroke="#00f" stroke-width="4" stroke-linecap="round"/>
<text x="0" y="0" font-size="23.2" font-weight="bold" text-anchor="start" transform="translate(534.60,99.30) scale(1.0,1.03)">LMA-25, 709 mW</text>
<rect x="1240.2" y="4.5" width="254.5999999999999" height="86.5" fill="#fff" stroke="#333" stroke-width="1.2"/>
<line x1="1249.5" y1="23.2" x2="1284.3" y2="23.2" stroke="#000" stroke-width="4" stroke-linecap="round"/>
<text x="0" y="0" font-size="23.2" font-weight="bold" text-anchor="start" transform="translate(1291.20,28.80) scale(1.0,1.075)">LMA-15, 1383 mW</text>
<line x1="1249.5" y1="51.6" x2="1284.3" y2="51.6" stroke="#f00" stroke-width="4" stroke-linecap="round"/>
<text x="0" y="0" font-size="23.2" font-weight="bold" text-anchor="start" transform="translate(1291.20,57.00) scale(1.0,1.075)">LMA-20, 1476 mW</text>
<line x1="1249.5" y1="80.4" x2="1284.3" y2="80.4" stroke="#00f" stroke-width="4" stroke-linecap="round"/>
<text x="0" y="0" font-size="23.2" font-weight="bold" text-anchor="start" transform="translate(1291.20,85.80) scale(1.0,1.075)">LMA-25, 1621 mW</text>
<text x="0" y="0" font-size="33" font-weight="bold" text-anchor="middle" transform="translate(29.60,193.80) rotate(-90) scale(0.99,1.0)">Intensity (a.u.)</text>
<text x="0" y="0" font-size="33" font-weight="bold" text-anchor="middle" transform="translate(766.70,193.70) rotate(-90) scale(0.99,1.0)">Intensity (a.u.)</text>
<text x="0" y="0" font-size="33" font-weight="bold" text-anchor="middle" transform="translate(399.50,411.40) scale(0.983,1.0)">Wavelength (nm)</text>
<text x="0" y="0" font-size="33" font-weight="bold" text-anchor="middle" transform="translate(1142.50,410.70) scale(0.983,1.0)">Wavelength (nm)</text>
<text x="0" y="0" font-size="40" font-weight="bold" text-anchor="middle" transform="translate(147.60,91.30) scale(0.98,1.02)">(a)</text>
<text x="0" y="0" font-size="40" font-weight="bold" text-anchor="middle" transform="translate(882.10,92.00) scale(0.98,1.02)">(b)</text>
</svg>
</body></html>
